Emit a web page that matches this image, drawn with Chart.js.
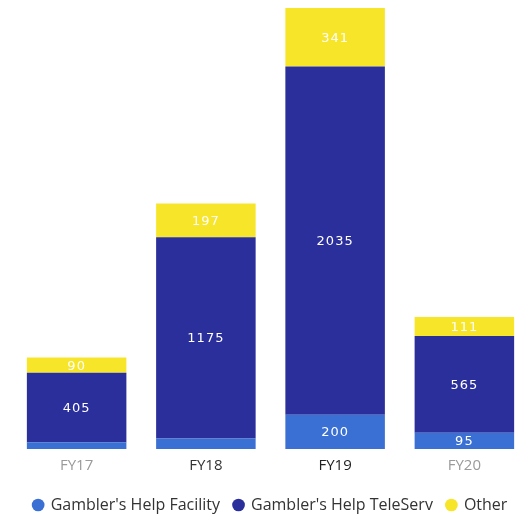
<!DOCTYPE html>
<html>
<head>
<meta charset="utf-8">
<script src="https://cdn.jsdelivr.net/npm/chart.js@4/dist/chart.umd.min.js"></script>
<style>
  html, body { margin: 0; padding: 0; background: #fff; }
  #wrap { width: 529px; height: 528px; }
</style>
</head>
<body>
<div id="wrap"><canvas id="helpChart"></canvas></div>
<script>
// values
const years = ["FY17", "FY18", "FY19", "FY20"];
const facility = [40, 62, 200, 95];
const teleServ = [405, 1175, 2035, 565];
const other = [90, 197, 341, 111];
const tickColors = ["#9a9a9a", "#333333", "#222222", "#9a9a9a"];

// white numbers inside the segments
const segmentLabels = {
    id: "segmentLabels",
    afterDatasetsDraw(chart) {
        const ctx = chart.ctx;
        ctx.save();
        ctx.font = "13px 'DejaVu Sans'";
        ctx.fillStyle = "#ffffff";
        ctx.textAlign = "center";
        ctx.textBaseline = "middle";
        if ("letterSpacing" in ctx) ctx.letterSpacing = "1px";
        chart.data.datasets.forEach((ds, i) => {
            chart.getDatasetMeta(i).data.forEach((bar, j) => {
                const h = Math.abs(bar.base - bar.y);
                if (h < 13) return;
                ctx.fillText(ds.data[j], bar.x, (bar.y + bar.base) / 2 + 1);
            });
        });
        ctx.restore();
    },
};

new Chart(document.getElementById("helpChart"), {
    type: "bar",
    data: {
        labels: years,
        datasets: [
            { label: "Gambler's Help Facility", data: facility, backgroundColor: "#3a6fd4" },
            { label: "Gambler's Help TeleServ", data: teleServ, backgroundColor: "#2b2f9b" },
            { label: "Other", data: other, backgroundColor: "#f7e52a" },
        ],
    },
    options: {
        responsive: true,
        maintainAspectRatio: false,
        animation: false,
        layout: { padding: { left: 12, right: 0, top: 4, bottom: 5 } },
        datasets: { bar: { categoryPercentage: 1, barPercentage: 0.77, borderWidth: 0 } },
        scales: {
            x: {
                stacked: true,
                grid: { display: false, drawTicks: false },
                border: { display: false },
                ticks: {
                    padding: 8,
                    color: (c) => tickColors[c.index],
                    font: { family: "'Open Sans'", size: 15 },
                },
            },
            y: { stacked: true, display: false, min: 0, max: 2600 },
        },
        plugins: {
            tooltip: { enabled: false },
            legend: {
                position: "bottom",
                labels: {
                    usePointStyle: true,
                    pointStyle: "circle",
                    boxWidth: 9,
                    boxHeight: 9,
                    padding: 14,
                    color: "#333",
                    font: { family: "'Open Sans'", size: 16 },
                },
            },
        },
    },
    plugins: [segmentLabels],
});
</script>
</body>
</html>
